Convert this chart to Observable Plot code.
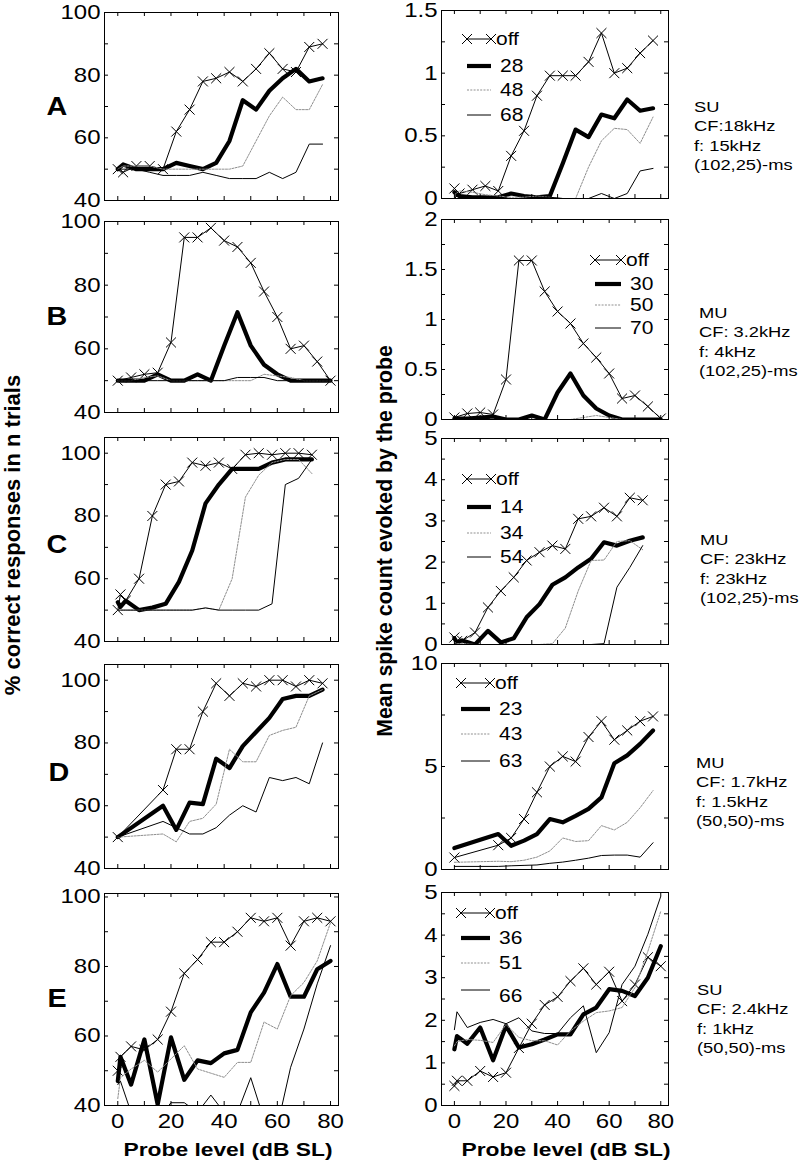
<!DOCTYPE html>
<html><head><meta charset="utf-8">
<script src="https://cdn.jsdelivr.net/npm/d3@7"></script>
<script src="https://cdn.jsdelivr.net/npm/@observablehq/plot@0.6"></script>
<style>
body{margin:0;background:#fff;}
#root{position:relative;width:799px;height:1164px;font-family:"Liberation Sans",Arial,sans-serif;color:#000;overflow:hidden;}
.abs{position:absolute;}
.lbl{position:absolute;font-weight:bold;white-space:nowrap;}
.letter{position:absolute;font-weight:bold;font-size:25px;transform:translate(-50%,-50%) scaleX(1.15);}
.note{position:absolute;font-size:15.5px;line-height:19.3px;white-space:nowrap;transform-origin:0 0;transform:scaleX(1.18);}
</style></head><body><div id="root"></div>
<script>
// ---------------- data ----------------
const levelsA = [0,2,7,12,17,22,27,32,37,42,47,52,57,62,67,72,77];
const pctA_off = [50,49,51,51,50,62,69,78,79,81,78,82,87,82,81,89,90];
const pctA_28  = [50,51.5,50,50,50,52,51,50,52,59,72,69,75,79,82,78,79];
const pctA_48  = [50,51,51,51,50,50,50,50,50,50,51,59,67,73,69,69,77];
const pctA_68  = [50,50,50,49,48,48,48,49,48,47,47,47,49,47,49,58,58];
const spkA_off = [0.08,0.04,0.07,0.1,0.06,0.34,0.54,0.82,0.98,0.98,0.98,1.09,1.32,1.0,1.04,1.16,1.26];
const spkA_28  = [0.05,0.02,0.01,0.01,0.01,0.04,0.02,0.01,0.02,0.28,0.55,0.49,0.67,0.64,0.79,0.7,0.72];
const spkA_48  = [0.03,0.06,0.05,0.03,0.02,0.01,0.01,0.02,0.01,0,0,0.25,0.46,0.56,0.55,0.44,0.65];
const spkA_68  = [0.02,0.01,0.01,0.01,0.01,0,0,0.01,0.01,0,0,0,0.04,0,0.04,0.22,0.24];

const levelsB = [0,5,10,15,20,25,30,35,40,45,50,55,60,65,70,75,80];
const pctB_off = [50,51,52,52.5,62,95,95,98,94,92,87,78,70,60,61,56,50];
const pctB_30  = [50,50,50,52,50,50,52,50,61,71.5,61,55,52,50,50,50,50];
const pctB_50  = [50,50,51,51.5,50,50,50,50,50,50,50,52,51.5,51,50,50,50];
const pctB_70  = [50,50,50,50,50,50,50,50,50,51,51,51,50,50,50,50,50];
const spkB_off = [0.02,0.06,0.07,0.05,0.4,1.59,1.59,1.28,1.08,0.96,0.76,0.62,0.46,0.21,0.24,0.13,0.01];
const spkB_30  = [0.01,0.01,0.02,0.03,0,0,0.04,0,0.27,0.46,0.24,0.11,0.04,0,0,0,0];
const spkB_50  = [0,0,0,0,0,0,0,0,0,0,0.02,0.04,0.02,0,0,0,0];
const spkB_70  = [0,0,0,0,0,0,0,0,0,0,0,0,0,0,0,0,0];

const levelsC = [0,1,3,8,13,18,23,28,33,38,43,48,53,58,63,68,73];
const pctC_off = [50,55,53,60,80,90,91,97,96,97,95,99.5,100,99.5,100,100,99.5];
const pctC_14  = [52.5,51,53,50,50.8,52,59,69,84,90,95,95,95,97,98,98,98];
const pctC_34  = [50,50,50,50,50,50,50,50,50.7,50,60,86,93,97,98,98,93.5];
const pctC_54  = [50,50,50,50,50,50,50,50,50.7,50,50,50,50,52,90,92,98];
const spkC_off = [0.17,0.08,0.09,0.29,0.9,1.3,1.63,2.04,2.24,2.4,2.32,3.05,3.11,3.32,3.11,3.56,3.5];
const spkC_14  = [0.15,0.05,0.1,0,0.33,0.05,0.15,0.66,0.98,1.45,1.63,1.87,2.08,2.48,2.4,2.52,2.6];
const spkC_34  = [0.05,0.02,0.02,0,0,0,0,0,0,0.02,0.4,1.3,2.04,2.05,2.5,2.52,2.3];
const spkC_54  = [0.02,0,0,0,0,0,0,0,0,0,0,0,0,0.02,1.39,1.87,2.4];

const levelsD = [0,17,22,27,32,37,42,47,52,57,62,67,72,77];
const pctD_off = [50,65,78,78,90,99,95,99,98,100,100,98,100,99];
const pctD_23  = [50,60,52.3,61,60.5,75,72,79,83.5,88,94,95,95,97];
const pctD_43  = [50,51,48.5,55,56,60.5,78,74,74,82.4,84,85,95,97];
const pctD_63  = [50,55,53,51,51,53,57,60,58,69,68,69,67,80];
const spkD_off = [0.58,1.18,1.53,2.45,3.75,5.0,5.49,5.24,6.43,7.2,6.3,6.75,7.2,7.43];
const spkD_23  = [1.04,1.72,1.15,1.4,1.72,2.45,2.29,2.6,2.94,3.5,5.16,5.54,6.1,6.75];
const spkD_43  = [0.35,0.4,0.38,0.45,0.6,0.9,1.53,1.36,1.4,2.13,1.92,2.29,3.0,3.83];
const spkD_63  = [0.15,0.15,0.18,0.2,0.22,0.3,0.36,0.45,0.55,0.68,0.7,0.7,0.6,1.3];

const levelsE = [0,1,5,10,15,20,25,30,35,40,45,50,55,60,65,70,75,80];
const pctE_off = [50,54,57,56,59,67,78,82,87,87,90,94,93,94,86,93,94,93];
const pctE_36  = [47,54,46,59,40.3,59.6,47.4,53,52.2,55,56,66.8,72.5,80.7,71.3,71.3,79.2,81.6];
const pctE_51  = [42,48,50.5,53,49.6,53.4,57.2,50.5,49.3,48.1,52.4,52.4,64,62,71.6,75.4,81.6,92.6];
const pctE_66  = [46,47,38,36,36,40.8,40.8,38,43,38,38,48,36,34,51,62,75,86];
const spkE_off = [0.46,0.58,0.58,0.81,0.67,0.77,1.35,1.92,2.36,2.55,2.92,3.22,2.84,3.14,2.45,2.84,3.48,3.27];
const spkE_36  = [1.32,1.63,1.45,1.83,1.06,1.87,1.36,1.44,1.55,1.67,1.67,2.14,2.3,2.73,2.69,2.57,3.0,3.74];
const spkE_51  = [1.4,1.5,1.55,1.53,1.48,1.9,1.6,1.52,1.52,1.42,1.75,1.98,2.18,2.22,2.3,2.77,3.62,4.56];
const spkE_66  = [1.78,2.2,1.83,1.95,2.02,1.92,2.06,1.75,1.69,1.69,2.06,2.34,1.24,1.71,2.84,3.27,4.02,4.91];

const maskerA = ["off","28","48","68"];
const maskerB = ["off","30","50","70"];
const maskerC = ["off","14","34","54"];
const maskerD = ["off","23","43","63"];
const maskerE = ["off","36","51","66"];

const panelLetters = ["A","B","C","D","E"];
const unitNotes = [
  ["SU","CF:18kHz","f: 15kHz","(102,25)-ms"],
  ["MU","CF: 3.2kHz","f: 4kHz","(102,25)-ms"],
  ["MU","CF: 23kHz","f: 23kHz","(102,25)-ms"],
  ["MU","CF: 1.7kHz","f: 1.5kHz","(50,50)-ms"],
  ["SU","CF: 2.4kHz","f: 1kHz","(50,50)-ms"]
];
const xTickValues = [0,10,20,30,40,50,60,70,80];
const xTickLabels = [0,20,40,60,80];
const pctTicks = [40,50,60,70,80,90,100];
const pctLabels = [40,60,80,100];

// ---------------- layout ----------------
const root = document.getElementById("root");
const FONT = "'Liberation Sans', Arial, sans-serif";
const STRETCH = 1.2;
const xDomain = [-5, 83];
const styles = [
  {stroke:"black", w:1, marker:true},
  {stroke:"black", w:4.2},
  {stroke:"#8f8f8f", w:1, dash:"2,1.3"},
  {stroke:"black", w:1}
];

// widen tick-label glyphs horizontally (the reference figure is horizontally stretched)
function stretchTexts(svg, s){
  svg.querySelectorAll("text").forEach(t=>{
    const tr = t.getAttribute("transform");
    if(tr) t.setAttribute("transform", `${tr} scale(${s},1)`);
  });
}

function makePanel(p){
  const [x0,x1,y0,y1] = p.frame;
  const fw = x1-x0, fh = y1-y0;
  const ml=60, mr=6, mt=14, mb=p.bottom?40:14;
  const tl=4;
  const marks=[];
  p.series.forEach((vals,k)=>{
    const s = styles[k];
    const data = p.levels.map((x,i)=>({x, y: vals[i]}));
    marks.push(Plot.line(data,{x:"x",y:"y",stroke:s.stroke,strokeWidth:s.w,strokeDasharray:s.dash||null,clip:true}));
    if(s.marker) marks.push(Plot.dot(data,{x:"x",y:"y",symbol:"times",r:4.6,stroke:"black",strokeWidth:1,clip:true}));
  });
  marks.push(Plot.tickY(p.yTicks,{insetRight:fw-tl,stroke:"black"}));
  marks.push(Plot.tickY(p.yTicks,{insetLeft:fw-tl,stroke:"black"}));
  marks.push(Plot.tickX(xTickValues,{insetTop:fh-tl,stroke:"black"}));
  marks.push(Plot.tickX(xTickValues,{insetBottom:fh-tl,stroke:"black"}));
  marks.push(Plot.frame({stroke:"black"}));
  marks.push(Plot.axisY(p.yLabels,{tickSize:0,tickPadding:4,label:null,fontSize:20,tickFormat:d=>String(d)}));
  if(p.bottom) marks.push(Plot.axisX(xTickLabels,{tickSize:0,tickPadding:8,label:null,fontSize:20,tickFormat:d=>String(d)}));
  const svg = Plot.plot({
    width: fw+ml+mr, height: fh+mt+mb,
    marginLeft:ml, marginRight:mr, marginTop:mt, marginBottom:mb,
    x:{domain:xDomain, axis: p.bottom ? undefined : null},
    y:{domain:p.yDomain},
    style:{background:"transparent", fontFamily:FONT, fontSize:"20px", color:"black", overflow:"visible"},
    marks
  });
  stretchTexts(svg, STRETCH);
  svg.classList.add("abs");
  svg.style.left = (x0-ml)+"px";
  svg.style.top = (y0-mt)+"px";
  root.appendChild(svg);
}

function makeLegend(L, labels){
  const svg = d3.select(root).append("svg").attr("class","abs")
    .style("left","0px").style("top","0px").attr("width",799).attr("height",1164)
    .style("overflow","visible").style("pointer-events","none");
  labels.forEach((lab,k)=>{
    const s = styles[k];
    const y = L.rows[k];
    svg.append("line").attr("x1",L.x1).attr("x2",L.x2).attr("y1",y).attr("y2",y)
      .attr("stroke",s.stroke).attr("stroke-width",s.w).attr("stroke-dasharray",s.dash||null);
    if(s.marker){
      [L.x1,L.x2].forEach(cx=>{
        svg.append("path").attr("d",`M${cx-5},${y-5}L${cx+5},${y+5}M${cx-5},${y+5}L${cx+5},${y-5}`)
          .attr("stroke","black").attr("fill","none");
      });
    }
    const tx = k===0 ? L.x2+5 : L.x2+9, ty = y + (L.dy?L.dy[k]:0);
    svg.append("text").attr("transform",`translate(${tx},${ty}) scale(${STRETCH},1)`)
      .attr("dominant-baseline","central").attr("font-family",FONT).attr("font-size",17.5).text(lab);
  });
}

const leftX = [104, 338], rightX = [441, 668];
const rowsLeft  = [[12,200],[221,412],[437,641],[664,868],[893,1105]];
const rowsRight = [[10,198],[219,419],[438,644],[663,869],[892,1105]];
const pctDomains = [[40,100],[40,100],[40,105],[40,105],[40,101]];
const spkDomains = [[0,1.5],[0,2],[0,5],[0,10],[0,5]];
const spkTickStep = [0.25,0.25,0.5,2.5,0.5];
const spkLabelStep = [0.5,0.5,1,5,1];

const levels = [levelsA,levelsB,levelsC,levelsD,levelsE];
const pctSeries = [
  [pctA_off,pctA_28,pctA_48,pctA_68],
  [pctB_off,pctB_30,pctB_50,pctB_70],
  [pctC_off,pctC_14,pctC_34,pctC_54],
  [pctD_off,pctD_23,pctD_43,pctD_63],
  [pctE_off,pctE_36,pctE_51,pctE_66]
];
const spkSeries = [
  [spkA_off,spkA_28,spkA_48,spkA_68],
  [spkB_off,spkB_30,spkB_50,spkB_70],
  [spkC_off,spkC_14,spkC_34,spkC_54],
  [spkD_off,spkD_23,spkD_43,spkD_63],
  [spkE_off,spkE_36,spkE_51,spkE_66]
];
const maskers = [maskerA,maskerB,maskerC,maskerD,maskerE];

for(let r=0;r<5;r++){
  makePanel({frame:[leftX[0],leftX[1],rowsLeft[r][0],rowsLeft[r][1]], yDomain:pctDomains[r],
    yTicks:pctTicks, yLabels:pctLabels, levels:levels[r], series:pctSeries[r], bottom:r===4});
  const [lo,hi] = spkDomains[r];
  makePanel({frame:[rightX[0],rightX[1],rowsRight[r][0],rowsRight[r][1]], yDomain:spkDomains[r],
    yTicks:d3.range(lo,hi+1e-9,spkTickStep[r]), yLabels:d3.range(lo,hi+1e-9,spkLabelStep[r]),
    levels:levels[r], series:spkSeries[r], bottom:r===4});
}

const legends = [
  {x1:467,x2:491,rows:[39,66,90,115]},
  {x1:595,x2:621,rows:[260,284,305,328]},
  {x1:467,x2:491,rows:[479,507,533,557]},
  {x1:461,x2:490,rows:[683,709,734,761]},
  {x1:461,x2:490,rows:[913,938,963,990],dy:[0,0,0,6]}
];
legends.forEach((L,i)=>makeLegend(L, maskers[i]));

// letters
const letterXY = [[57,106],[57,316],[57,544],[59,772],[57,998]];
panelLetters.forEach((t,i)=>{
  const d=document.createElement("div"); d.className="letter"; d.textContent=t;
  d.style.left=letterXY[i][0]+"px"; d.style.top=letterXY[i][1]+"px"; root.appendChild(d);
});
// notes
const noteXY = [[694,97],[699,303],[700,530],[696,753],[697,980]];
unitNotes.forEach((lines,i)=>{
  const d=document.createElement("div"); d.className="note";
  d.innerHTML = lines.join("<br>");
  d.style.left=noteXY[i][0]+"px"; d.style.top=noteXY[i][1]+"px"; root.appendChild(d);
});
// axis titles
function label(text,x,y,rot,size,sx){
  const d=document.createElement("div"); d.className="lbl"; d.textContent=text;
  d.style.fontSize=size+"px";
  d.style.left=x+"px"; d.style.top=y+"px";
  d.style.transform = `translate(-50%,-50%)` + (rot?` rotate(-90deg)`:"") + ` scale(${rot?1:sx},${rot?sx:1})`;
  root.appendChild(d);
}
label("% correct responses in n trials", 13, 535, true, 22, 1.0);
label("Mean spike count evoked by the probe", 385, 541, true, 21.3, 1.0);
label("Probe level (dB SL)", 228, 1150, false, 19, 1.2);
label("Probe level (dB SL)", 566, 1150, false, 19, 1.2);
</script></body></html>
